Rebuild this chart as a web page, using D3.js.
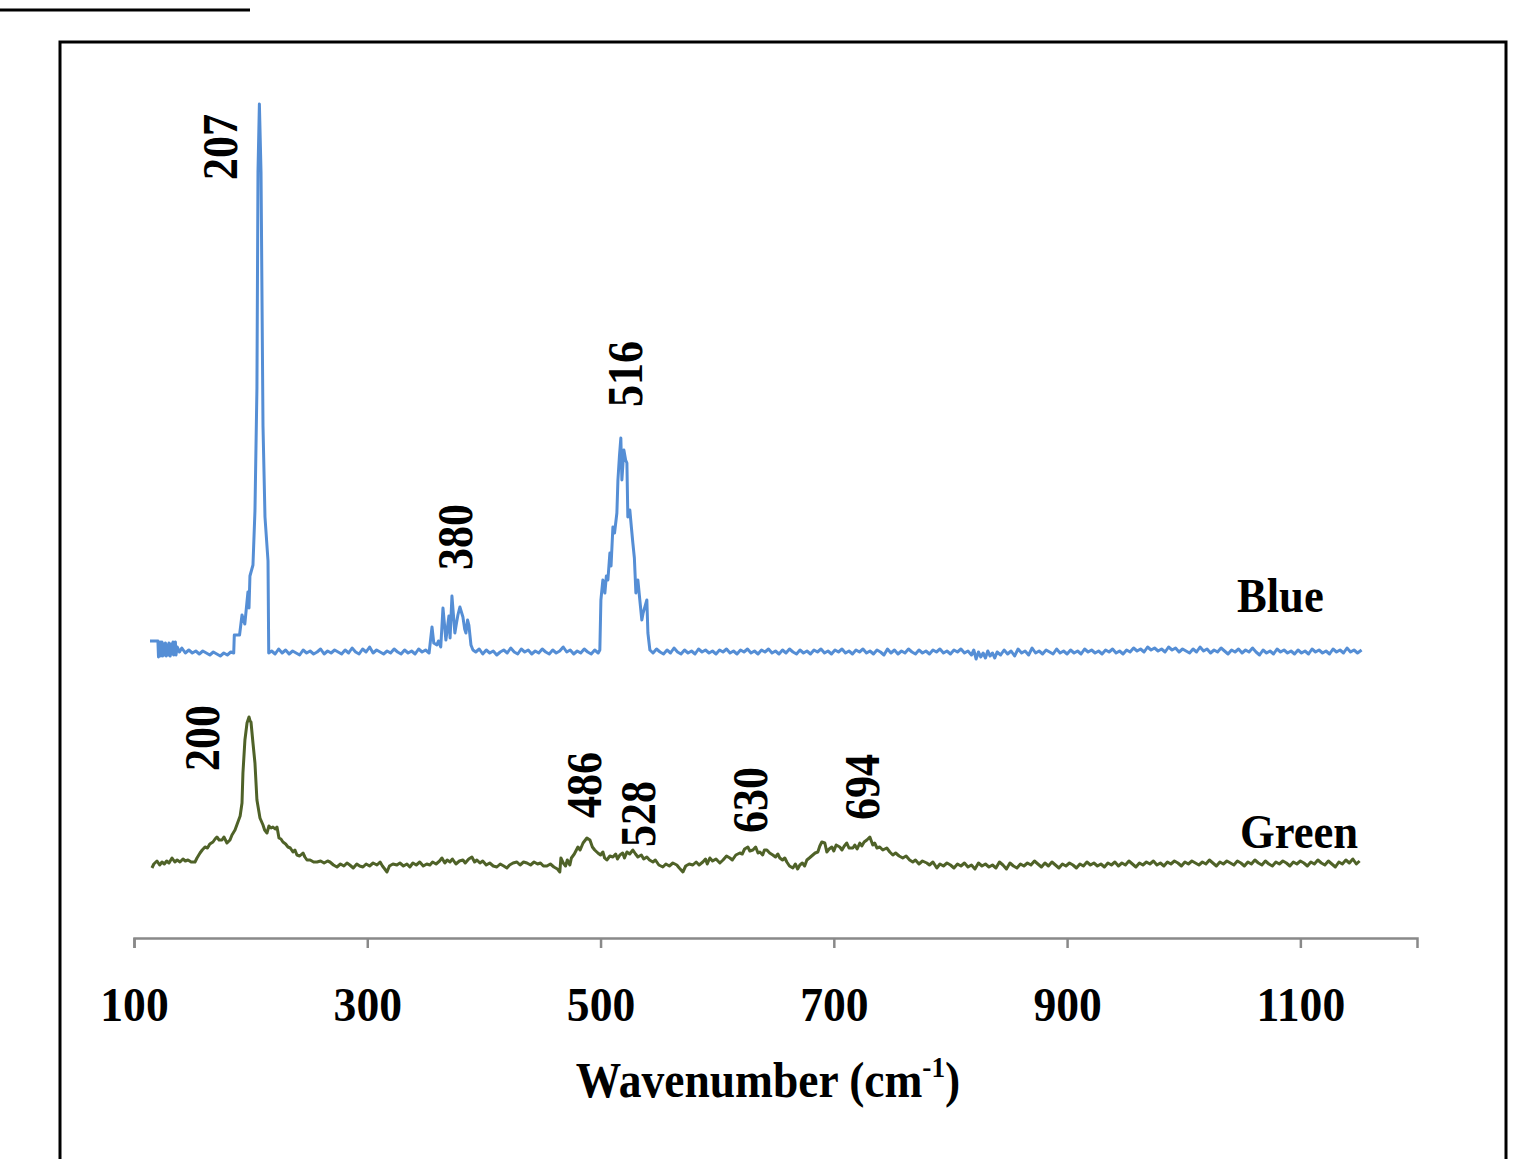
<!DOCTYPE html>
<html>
<head>
<meta charset="utf-8">
<script src="https://cdn.jsdelivr.net/npm/d3@7"></script>
<style>
  html, body { margin: 0; padding: 0; background: #fff; }
  svg { display: block; }
  text { font-family: "Liberation Serif", "Times New Roman", serif; font-weight: bold; fill: #000; }
</style>
</head>
<body>
<svg id="chart" width="1538" height="1159"></svg>
<script>
// ---------------- DATA ----------------
const xTicks = [100, 300, 500, 700, 900, 1100];
const xTitle = "Wavenumber (cm";
const xTitleSup = "-1";
const seriesNames = ["Blue", "Green"];

// Blue spectrum: [wavenumber (cm-1), intensity (a.u.)]
const blueSpectrum = [[113.7,297],[116,297],[120.5,297],[121,281],[121.5,295],[122,283],[122.5,296],[123,282],[124,296],[124.5,282],[125.5,294],[126,283],[127,295],[127.5,282],[128.5,293],[129,283],[130,295],[131,282],[132,294],[132.5,284],[133.5,296],[134,283],[135.5,296],[136,283],[137,291],[139,286],[141,290],[144,285],[147,288],[150,285],[153,287],[156,284],[159,287],[162,285],[165,283],[168,286],[171,284],[174,282],[177,285],[180,283],[183,286],[185.5,285],[186,303],[190.5,303],[192.6,323],[195,314],[197.7,346],[198.6,330],[199.4,362],[202,373],[203.7,427],[205.4,550],[206.3,766],[207.5,834],[208.9,766],[210.6,512],[212.3,421],[214.9,377],[215.5,285],[218,287],[221,284],[224,289],[227,285],[230,288],[233,284],[236,287],[239,285],[242,283],[245,288],[248,285],[251,287],[254,284],[257,286],[260,289],[263,284],[266,287],[269,285],[272,288],[275,286],[278,284],[281,288],[284,285],[287,290],[290,286],[293,284],[296,289],[299,286],[302,291],[305,285],[308,288],[311,286],[314,284],[317,287],[320,285],[323,289],[326,286],[329,284],[332,288],[335,285],[338,287],[341,284],[344,289],[347,286],[350,288],[353,285],[355.5,311],[357,295],[359.7,293],[361,297],[363,291],[364.9,330],[367.4,298],[370,322],[371,300],[372.6,342],[375.1,305],[376.5,315],[377.7,323],[379.4,331],[382,321],[383.5,309],[384.6,305],[386,318],[387.1,313],[388.9,293],[390.6,288],[393,286],[396,289],[399,284],[402,288],[405,285],[408,287],[411,283],[414,286],[417,288],[420,285],[423,290],[426,286],[429,284],[432,289],[435,286],[438,288],[441,284],[444,287],[447,285],[450,289],[453,286],[456,284],[459,288],[462,285],[465,287],[468,291],[471,286],[474,288],[477,284],[480,287],[483,285],[486,289],[489,286],[492,284],[495,288],[498,285],[499.4,288],[500.3,338],[502,358],[503.7,345],[505,362],[506.3,358],[508,385],[509,372],[510.6,411],[512,405],[514,425],[514.9,458],[516.2,482],[517.4,500],[518.3,458],[520,488],[521.5,478],[522.6,475],[523.4,421],[525.1,428],[526.5,410],[527.7,395],[529,380],[530.3,345],[532,358],[533.5,340],[535.4,318],[536.5,325],[538,331],[539.7,338],[540.6,305],[542.3,288],[545,285],[548,289],[551,286],[554,284],[557,288],[560,285],[563,290],[566,286],[569,284],[572,288],[575,285],[578,287],[581,284],[584,289],[587,286],[590,288],[593,285],[596,287],[599,284],[602,288],[605,286],[608,289],[611,285],[614,287],[617,284],[620,288],[623,286],[626,289],[629,285],[632,287],[635,284],[638,288],[641,286],[644,289],[647,285],[650,287],[653,284],[656,288],[659,285],[662,289],[665,286],[668,284],[671,288],[674,285],[677,287],[680,284],[683,288],[686,286],[689,289],[692,285],[695,287],[698,284],[701,288],[704,286],[707,289],[710,285],[713,287],[716,284],[719,288],[722,286],[725,289],[728,285],[731,287],[734,284],[737,288],[740,286],[743,283],[746,289],[749,285],[752,288],[755,284],[758,287],[761,285],[764,289],[767,286],[770,284],[773,288],[776,285],[779,287],[782,284],[785,288],[788,286],[791,289],[794,285],[797,287],[800,284],[803,288],[806,286],[809,289],[812,285],[815,287],[818,283],[820,288],[822,279],[824,286],[826,281],[828,285],[830,280],[832,287],[834,282],[836,285],[838,280],[840,286],[843,283],[846,288],[849,284],[852,287],[855,282],[858,289],[861,285],[864,287],[867,283],[870,290],[873,285],[876,287],[879,284],[882,288],[885,286],[888,284],[891,289],[894,285],[897,287],[900,284],[903,288],[906,285],[909,287],[912,284],[915,289],[918,286],[921,288],[924,285],[927,287],[930,284],[933,288],[936,286],[939,289],[942,285],[945,287],[948,284],[951,288],[954,286],[957,290],[960,287],[963,289],[966,286],[969,291],[972,288],[975,290],[978,287],[981,289],[984,286],[987,291],[990,288],[993,290],[996,286],[999,289],[1002,287],[1005,285],[1008,289],[1011,286],[1014,291],[1017,287],[1020,289],[1023,285],[1026,288],[1029,286],[1032,290],[1035,287],[1038,284],[1041,288],[1044,286],[1047,289],[1050,285],[1053,288],[1056,286],[1059,290],[1062,286],[1065,283],[1068,288],[1071,285],[1074,287],[1077,284],[1080,289],[1083,286],[1086,288],[1089,285],[1092,287],[1095,284],[1098,288],[1101,285],[1104,287],[1107,284],[1110,289],[1113,286],[1116,288],[1119,285],[1122,287],[1125,284],[1128,289],[1131,286],[1134,288],[1137,285],[1140,290],[1143,286],[1146,288],[1149,285],[1152.5,288]];

// Green spectrum: [wavenumber (cm-1), intensity (a.u.)]
const greenSpectrum = [[115.4,70],[117,74],[119.7,77],[122,73],[124,76],[126,74],[128,77],[130,75],[132.6,80],[135,76],[137,78],[139.4,76],[142,79],[144,77],[146.3,78],[149,76],[152.3,76],[154,80],[156.6,85],[158.5,88],[160.9,91],[163,90],[165,94],[167.7,96],[169.5,99],[171.1,101],[173,98],[175.4,98],[177.1,101],[179.7,95],[182.3,98],[184,103],[186.6,108],[189.1,116],[191,122],[192.6,135],[193.4,165],[195.1,198],[196.9,215],[198.6,221],[199.5,217],[200.3,216],[202,195],[203.7,175],[205.4,138],[208,120],[210.6,113],[212,108],[214,105],[215.7,112],[217.5,110],[219.1,111],[221,109],[222.6,111],[224.3,100],[226,99],[227.7,96],[230,94],[232,91],[234,90],[236.3,86],[238,88],[239.7,83],[242,82],[244.9,85],[246.5,81],[248.3,78],[251,78],[254,76],[256.9,76],[260,77],[263,75],[266,77],[268,76],[271,73],[274,71],[277,74],[280,72],[282.6,75],[285,73],[288,70],[291,74],[293.5,72],[296.3,71],[299,74],[302,72],[305,75],[308.3,73],[311,76],[313,72],[315,69],[316.9,66],[319,72],[322,74],[325.4,73],[328,75],[331,72],[334,74],[336.5,71],[339.1,75],[342,73],[345,76],[348,72],[351,74],[353.7,73],[356,76],[359,74],[362,77],[364,80],[366.5,75],[368.5,78],[370.9,76],[373,79],[376,74],[379,77],[382,78],[384,75],[387,79],[389.7,81],[392,76],[394,78],[396.6,75],[399,77],[402,73],[405,75],[408,72],[411.1,71],[414,74],[417,72],[419.7,70],[422,73],[425,75],[428.3,76],[431,73],[434,76],[436.9,75],[440,73],[443,76],[446,74],[448.5,75],[451,72],[454,72],[457,74],[460,71],[463,69],[465.1,66],[466,80],[468,75],[470,72],[471.5,78],[473.7,73],[475,80],[477.5,84],[480.6,91],[482.5,88],[485,95],[488.3,100],[490.9,98],[493,91],[495,88],[497.7,85],[500,83],[502,86],[503.5,80],[505.4,78],[508,82],[510.6,81],[513,84],[514.5,79],[516.6,83],[519,85],[520.5,80],[522.6,86],[525,84],[527.7,88],[530,84],[532,81],[535,83],[537,79],[539.7,81],[542,78],[544.9,76],[547,78],[550,73],[553.4,71],[556,74],[559,72],[562,75],[565.4,73],[567.5,70],[570.6,66],[573,72],[576,74],[579.1,73],[582,76],[584.5,73],[587.7,76],[590,79],[591.5,74],[593.7,80],[596,77],[599,79],[602.3,75],[605,78],[608,82],[610.9,80],[613,78],[616,83],[619.4,85],[621.5,84],[623.5,89],[626.3,91],[628,87],[630.6,88],[633,91],[635,85],[636.6,86],[639,83],[640.5,88],[642.6,88],[645,85],[647.7,83],[650,81],[652,84],[653.7,80],[656,78],[658,80],[659.7,76],[662,72],[664.9,70],[667,74],[669,69],[670.9,73],[673,75],[675,72],[676.9,78],[679,80],[682,83],[684,85],[686.3,86],[688,92],[689.7,96],[692.3,95],[694,86],[696,89],[698.3,91],[700,87],[702,93],[705.1,91],[707,88],[709,92],[711.1,95],[713,90],[716.3,90],[718,93],[720,89],[722.3,95],[724,92],[726,96],[728.3,98],[730.9,101],[733.4,93],[735,95],[737,90],[739.4,91],[742,88],[745.4,90],[748,86],[750.6,83],[753,85],[756,82],[759.1,80],[762,82],[765,78],[767.7,76],[770,78],[773,74],[776,77],[779.7,75],[782,73],[785,76],[788.3,70],[791,74],[794,72],[797,75],[800,73],[803,70],[806,74],[809,72],[812,75],[815,71],[818,73],[821,69],[824,75],[827,72],[830,74],[833,71],[836,73],[839,70],[842,76],[845,73],[848,69],[851,75],[854,72],[857,70],[860,74],[863,72],[866,75],[869,73],[872,77],[875,74],[878,71],[881,75],[884,72],[887,76],[890,73],[893,70],[896,74],[899,72],[902,75],[905,73],[908,70],[911,74],[914,72],[917,76],[920,73],[923,75],[926,72],[929,74],[932,71],[935,75],[938,73],[941,76],[944,72],[947,75],[950,73],[953,77],[956,74],[959,71],[962,75],[965,73],[968,76],[971,74],[974,77],[977,73],[980,75],[983,72],[986,76],[989,74],[992,77],[995,75],[998,72],[1001,76],[1004,74],[1007,77],[1010,75],[1013,73],[1016,76],[1019,74],[1022,78],[1025,75],[1028,72],[1031,76],[1034,74],[1037,77],[1040,75],[1043,73],[1046,77],[1049,75],[1052,72],[1055,76],[1058,74],[1061,78],[1064,75],[1067,73],[1070,77],[1073,74],[1076,72],[1079,76],[1082,74],[1085,77],[1088,75],[1091,72],[1094,76],[1097,74],[1100,77],[1103,75],[1106,72],[1109,76],[1112,74],[1115,78],[1118,75],[1121,73],[1124,77],[1127,74],[1130,71],[1133,76],[1136,74],[1139,78],[1142,75],[1145,79],[1148,74],[1150.8,77]];

// Peak annotations: label text, anchor wavenumber, anchor intensity
const peakLabels = ["207", "380", "516", "200", "486", "528", "630", "694"];
const peakLabelWave = [188.3, 389.8, 535.5, 172.9, 500.4, 546.7, 642.7, 738.7];
const peakLabelLevel = [758, 368, 531, 167, 120, 91, 105, 118];

// Series name label anchors (wavenumber, intensity)
const seriesLabelWave = [1045.6, 1048.2];
const seriesLabelLevel = [326, 90];

// ---------------- DRAW ----------------
const svg = d3.select("#chart");
const x = d3.scaleLinear().domain([100, 1200]).range([134, 1417]);
const y = d3.scaleLinear().domain([0, 900]).range([938, 38]);

// frame and top rule
svg.append("line").attr("x1", 0).attr("x2", 250).attr("y1", 10).attr("y2", 10)
  .attr("stroke", "#000").attr("stroke-width", 3);
svg.append("rect").attr("x", 60).attr("y", 42).attr("width", 1446).attr("height", 1200)
  .attr("fill", "none").attr("stroke", "#000").attr("stroke-width", 3);

// axis
const axis = d3.axisBottom(x).tickValues(xTicks).tickSize(10).tickPadding(39).tickFormat(d3.format("d"));
const gAxis = svg.append("g").attr("transform", "translate(0,938)").call(axis);
gAxis.select(".domain").attr("stroke", "#898989").attr("stroke-width", 2.5);
gAxis.selectAll(".tick line").attr("stroke", "#898989").attr("stroke-width", 2.5);
gAxis.selectAll(".tick text")
  .attr("font-family", "'Liberation Serif', 'Times New Roman', serif")
  .attr("font-weight", "bold").attr("font-size", 48).attr("fill", "#000")
  .attr("transform", "scale(0.95,1)");

// axis title
const title = svg.append("text")
  .attr("transform", "translate(768,1097) scale(0.91,1)")
  .attr("text-anchor", "middle").attr("font-size", 50);
title.append("tspan").text(xTitle);
title.append("tspan").attr("font-size", 30).attr("dy", -20).text(xTitleSup);
title.append("tspan").attr("dy", 20).text(")");

// lines
const line = d3.line().x(d => x(d[0])).y(d => y(d[1]));
svg.append("path").datum(blueSpectrum).attr("d", line)
  .attr("fill", "none").attr("stroke", "#558ED5").attr("stroke-width", 3).attr("stroke-linejoin", "round");
svg.append("path").datum(greenSpectrum).attr("d", line)
  .attr("fill", "none").attr("stroke", "#4F6228").attr("stroke-width", 3).attr("stroke-linejoin", "round");

// peak labels
peakLabels.forEach((t, i) => {
  svg.append("text")
    .attr("transform", `translate(${x(peakLabelWave[i])},${y(peakLabelLevel[i])}) rotate(-90) scale(0.88,1)`)
    .attr("font-size", 50).text(t);
});

// series labels
seriesNames.forEach((t, i) => {
  svg.append("text")
    .attr("transform", `translate(${x(seriesLabelWave[i])},${y(seriesLabelLevel[i])}) scale(0.93,1)`)
    .attr("font-size", 48).text(t);
});
</script>
</body>
</html>
